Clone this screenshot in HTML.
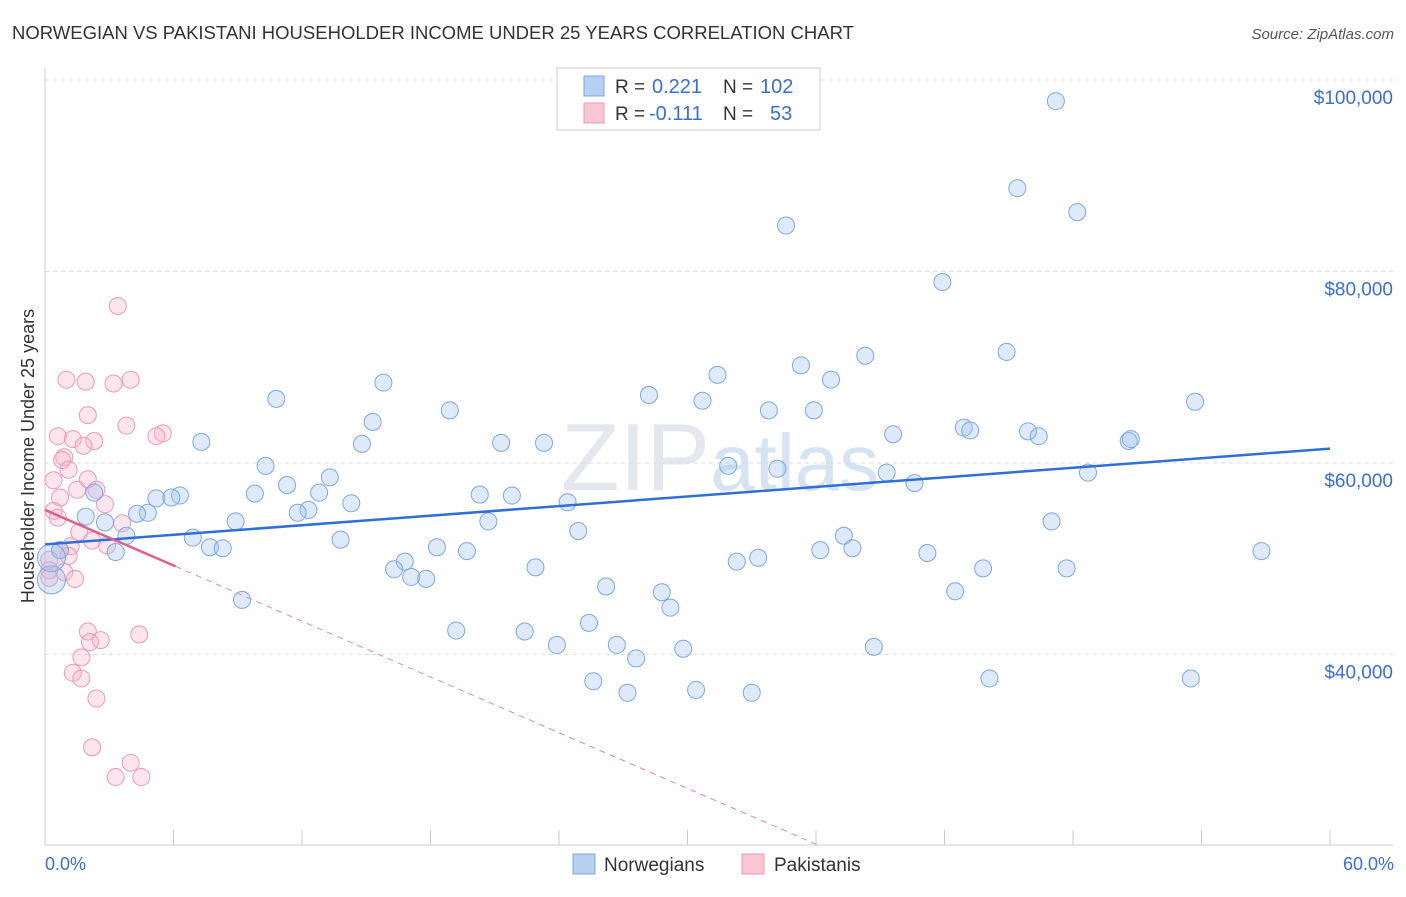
<!DOCTYPE html>
<html><head><meta charset="utf-8">
<style>
body{margin:0;background:#fff;font-family:"Liberation Sans",sans-serif;}
svg text{font-family:"Liberation Sans",sans-serif;}
</style></head>
<body>
<svg id="chart" width="1406" height="892" xmlns="http://www.w3.org/2000/svg">
<text x="12" y="39" font-size="18.5" fill="#333">NORWEGIAN VS PAKISTANI HOUSEHOLDER INCOME UNDER 25 YEARS CORRELATION CHART</text>
<text x="1394" y="39" font-size="15" fill="#555" text-anchor="end" font-style="italic">Source: ZipAtlas.com</text>
<text x="720" y="490" font-size="96" fill="#e4e8ee" text-anchor="middle" font-family="Liberation Serif">ZIP<tspan fill="#d6e3f3" font-family="Liberation Sans" font-size="80">atlas</tspan></text>
<g id="grid"></g>
<g id="axes"></g>
<g id="pink-pts"></g>
<g id="blue-pts"></g>
<g id="trends"></g>
<text transform="translate(34,456) rotate(-90)" font-size="18" fill="#333" text-anchor="middle">Householder Income Under 25 years</text>
<text x="45" y="870" font-size="18" fill="#3a6fd0">0.0%</text>
<text x="1394" y="870" font-size="18" fill="#3a6fd0" text-anchor="end">60.0%</text>
<g>
<rect x="557" y="68" width="263" height="62" fill="#fff" stroke="#ccc"/>
<rect x="584" y="76" width="20" height="20" fill="#b7d0f2" stroke="#7aa6e0"/>
<rect x="584" y="103" width="20" height="20" fill="#f9c6d5" stroke="#ec9ab4"/>
<text x="615" y="93" font-size="19" fill="#333">R =</text>
<text x="652" y="93" font-size="20" fill="#3a6fd0">0.221</text>
<text x="723" y="93" font-size="19" fill="#333">N =</text>
<text x="760" y="93" font-size="20" fill="#3a6fd0">102</text>
<text x="615" y="120" font-size="19" fill="#333">R =</text>
<text x="649" y="120" font-size="20" fill="#3a6fd0">-0.111</text>
<text x="723" y="120" font-size="19" fill="#333">N =</text>
<text x="770" y="120" font-size="20" fill="#3a6fd0">53</text>
</g>
<g>
<rect x="573" y="854" width="22" height="20" fill="#b7d0f2" stroke="#7aa6e0"/>
<text x="604" y="871" font-size="19" fill="#333">Norwegians</text>
<rect x="742" y="854" width="22" height="20" fill="#f9c6d5" stroke="#ec9ab4"/>
<text x="774" y="871" font-size="19" fill="#333">Pakistanis</text>
</g>
</svg>
<script>
const yTicks=[40000,60000,80000,100000];
const yTickLabels=["$40,000","$60,000","$80,000","$100,000"];
const blueX=[47.2,45.4,48.2,34.6,41.9,44.9,38.3,35.3,31.4,36.7,15.8,28.2,10.8,30.7,53.7,18.9,33.8,35.9,15.3,42.9,43.2,39.6,45.9,46.4,50.6,50.7,7.3,14.8,21.3,23.3,31.9,34.2,10.3,39.3,48.7,13.3,40.6,11.3,2.3,6.3,5.2,5.9,9.8,20.3,21.8,12.8,14.3,24.4,12.3,11.8,4.8,4.3,1.9,2.8,8.9,20.7,47.0,24.9,3.8,6.9,37.3,13.8,18.3,7.7,8.3,37.7,36.2,19.7,3.3,0.7,41.2,33.3,32.3,56.8,16.8,16.3,22.9,43.8,47.7,17.1,17.8,26.2,28.8,42.5,29.2,9.2,25.4,19.2,22.4,26.7,23.9,27.6,29.8,38.7,25.6,44.1,53.5,27.2,30.4,33.0,0.3,0.3];
const blueY=[97.8,88.7,86.2,84.8,78.9,71.6,71.2,70.2,69.2,68.7,68.4,67.1,66.7,66.5,66.4,65.5,65.5,65.5,64.3,63.7,63.4,63.0,63.3,62.8,62.3,62.5,62.2,62.0,62.1,62.1,59.7,59.4,59.7,59.0,59.0,58.5,57.9,57.7,56.9,56.6,56.3,56.4,56.8,56.7,56.6,56.9,55.8,55.9,55.1,54.8,54.8,54.7,54.4,53.8,53.9,53.9,53.9,52.9,52.4,52.2,52.4,52.0,51.2,51.2,51.1,51.1,50.9,50.8,50.7,50.9,50.6,50.1,49.7,50.8,49.7,48.9,49.1,49.0,49.0,48.1,47.9,47.1,46.5,46.6,44.9,45.7,43.3,42.5,42.4,41.0,41.0,39.6,40.6,40.8,37.2,37.5,37.5,36.0,36.3,36.0,47.8,50.1];
const pinkX=[3.4,1.0,1.9,4.0,3.2,2.0,3.8,5.5,5.2,0.6,1.3,2.3,1.8,0.9,0.8,1.1,2.0,0.4,2.4,1.5,0.7,2.8,0.4,0.6,3.6,1.6,2.9,2.2,1.2,0.7,1.1,0.2,0.2,0.9,1.4,0.2,2.0,4.4,2.6,2.1,1.7,1.3,1.7,2.4,2.2,4.0,3.3,4.5];
const pinkY=[76.4,68.7,68.5,68.7,68.3,65.0,63.9,63.1,62.8,62.8,62.5,62.3,61.8,60.6,60.3,59.3,58.3,58.2,57.2,57.2,56.4,55.7,55.0,54.3,53.7,52.8,51.4,51.9,51.3,50.9,50.3,49.9,48.8,48.6,47.9,48.0,42.4,42.1,41.5,41.3,39.7,38.1,37.5,35.4,30.3,28.7,27.2,27.2];
const blueTrend=[[0,51.5],[60,61.5]];
const pinkTrend=[[0,55.1],[6.1,49.2]];
const pinkTrendExt=[[6.1,49.2],[36.2,20.0]];

const NS="http://www.w3.org/2000/svg";
const X=p=>45+p/60*1285;
const Y=k=>80+(100-k)/20*191.5;
function mk(tag,attrs,parent){const e=document.createElementNS(NS,tag);for(const k in attrs)e.setAttribute(k,attrs[k]);document.getElementById(parent).appendChild(e);return e;}
yTicks.forEach((t,i)=>{
 const y=Y(t/1000);
 const l=mk('line',{x1:45,x2:1393,y1:y,y2:y,stroke:'#ddd','stroke-dasharray':'4,4'},'grid');
 
 
 const tx=mk('text',{x:1393,y:y+24,'font-size':19,fill:'#3a6fd0','text-anchor':'end'},'grid');
 tx.textContent=yTickLabels[i];
 
 
});
let a=mk('line',{x1:45,x2:45,y1:68,y2:845,stroke:'#ccc'},'axes');


a=mk('line',{x1:45,x2:1393,y1:845,y2:845,stroke:'#ccc'},'axes');


for(let i=0;i<=10;i++){const x=X(i*6);const t=mk('line',{x1:x,x2:x,y1:830,y2:845,stroke:'#ccc'},'axes');
 
 }
pinkX.forEach((x,i)=>{const c=mk('circle',{cx:X(x),cy:Y(pinkY[i]),r:8.5,fill:'rgba(246,180,202,0.35)',stroke:'#ea9ab6','stroke-width':1},'pink-pts');
 
 });
blueX.forEach((x,i)=>{const big=i>=blueX.length-2;const c=mk('circle',{cx:X(x),cy:Y(blueY[i]),r:big?14:8.5,fill:'rgba(160,195,238,0.35)',stroke:'#7ea8de','stroke-width':1},'blue-pts');
 
 });
let tl=mk('line',{x1:X(blueTrend[0][0]),y1:Y(blueTrend[0][1]),x2:X(blueTrend[1][0]),y2:Y(blueTrend[1][1]),stroke:'#2f6fd6','stroke-width':2.5},'trends');


tl=mk('line',{x1:X(pinkTrend[0][0]),y1:Y(pinkTrend[0][1]),x2:X(pinkTrend[1][0]),y2:Y(pinkTrend[1][1]),stroke:'#e0608c','stroke-width':2.5},'trends');


tl=mk('line',{x1:X(pinkTrendExt[0][0]),y1:Y(pinkTrendExt[0][1]),x2:X(pinkTrendExt[1][0]),y2:Y(pinkTrendExt[1][1]),stroke:'#e888a8','stroke-width':1,'stroke-dasharray':'6,5'},'trends');


</script>
</body></html>
